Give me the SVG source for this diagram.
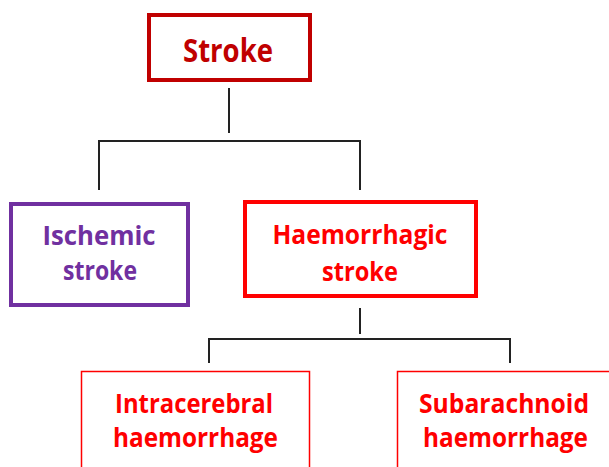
<svg xmlns="http://www.w3.org/2000/svg" width="609" height="467" viewBox="0 0 609 467">
<style>
.t{font-family:"Open Sans","Liberation Sans",sans-serif;font-weight:bold;text-anchor:middle}
.c{fill:none;stroke:#222;stroke-width:2}
</style>
<rect width="609" height="467" fill="#fff"/>
<g id="connectors">
<path class="c" d="M229,88V133M99,190V141H360V190"/>
<path class="c" d="M360,308V334M209,363V339H510V363"/>
</g>
<g id="stroke">
<rect x="149" y="15" width="161" height="65" fill="#fff" stroke="#C00000" stroke-width="4"/>
<text class="t" x="228" y="62" font-size="32" fill="#C00000" textLength="90" lengthAdjust="spacingAndGlyphs">Stroke</text>
</g>
<g id="ischemic">
<rect x="11" y="204" width="177" height="101" fill="#fff" stroke="#7030A0" stroke-width="4"/>
<text class="t" x="99" y="245" font-size="27" fill="#7030A0" textLength="113" lengthAdjust="spacingAndGlyphs">Ischemic</text>
<text class="t" x="100" y="280" font-size="27" fill="#7030A0" textLength="74" lengthAdjust="spacingAndGlyphs">stroke</text>
</g>
<g id="haemorrhagic">
<rect x="245" y="202" width="231" height="94" fill="#fff" stroke="#FF0000" stroke-width="4"/>
<text class="t" x="360" y="244" font-size="27" fill="#FF0000" textLength="175" lengthAdjust="spacingAndGlyphs">Haemorrhagic</text>
<text class="t" x="360" y="281" font-size="27" fill="#FF0000" textLength="76" lengthAdjust="spacingAndGlyphs">stroke</text>
</g>
<g id="intracerebral">
<rect x="81.5" y="371.5" width="228" height="110" fill="#fff" stroke="#FF0000" stroke-width="1.5"/>
<text class="t" x="194" y="413" font-size="27" fill="#FF0000" textLength="158" lengthAdjust="spacingAndGlyphs">Intracerebral</text>
<text class="t" x="195.5" y="447" font-size="27" fill="#FF0000" textLength="165" lengthAdjust="spacingAndGlyphs">haemorrhage</text>
</g>
<g id="subarachnoid">
<rect x="397.5" y="371.5" width="230" height="110" fill="#fff" stroke="#FF0000" stroke-width="1.5"/>
<text class="t" x="504" y="413" font-size="27" fill="#FF0000" textLength="170" lengthAdjust="spacingAndGlyphs">Subarachnoid</text>
<text class="t" x="505.5" y="447" font-size="27" fill="#FF0000" textLength="165" lengthAdjust="spacingAndGlyphs">haemorrhage</text>
</g>
</svg>
